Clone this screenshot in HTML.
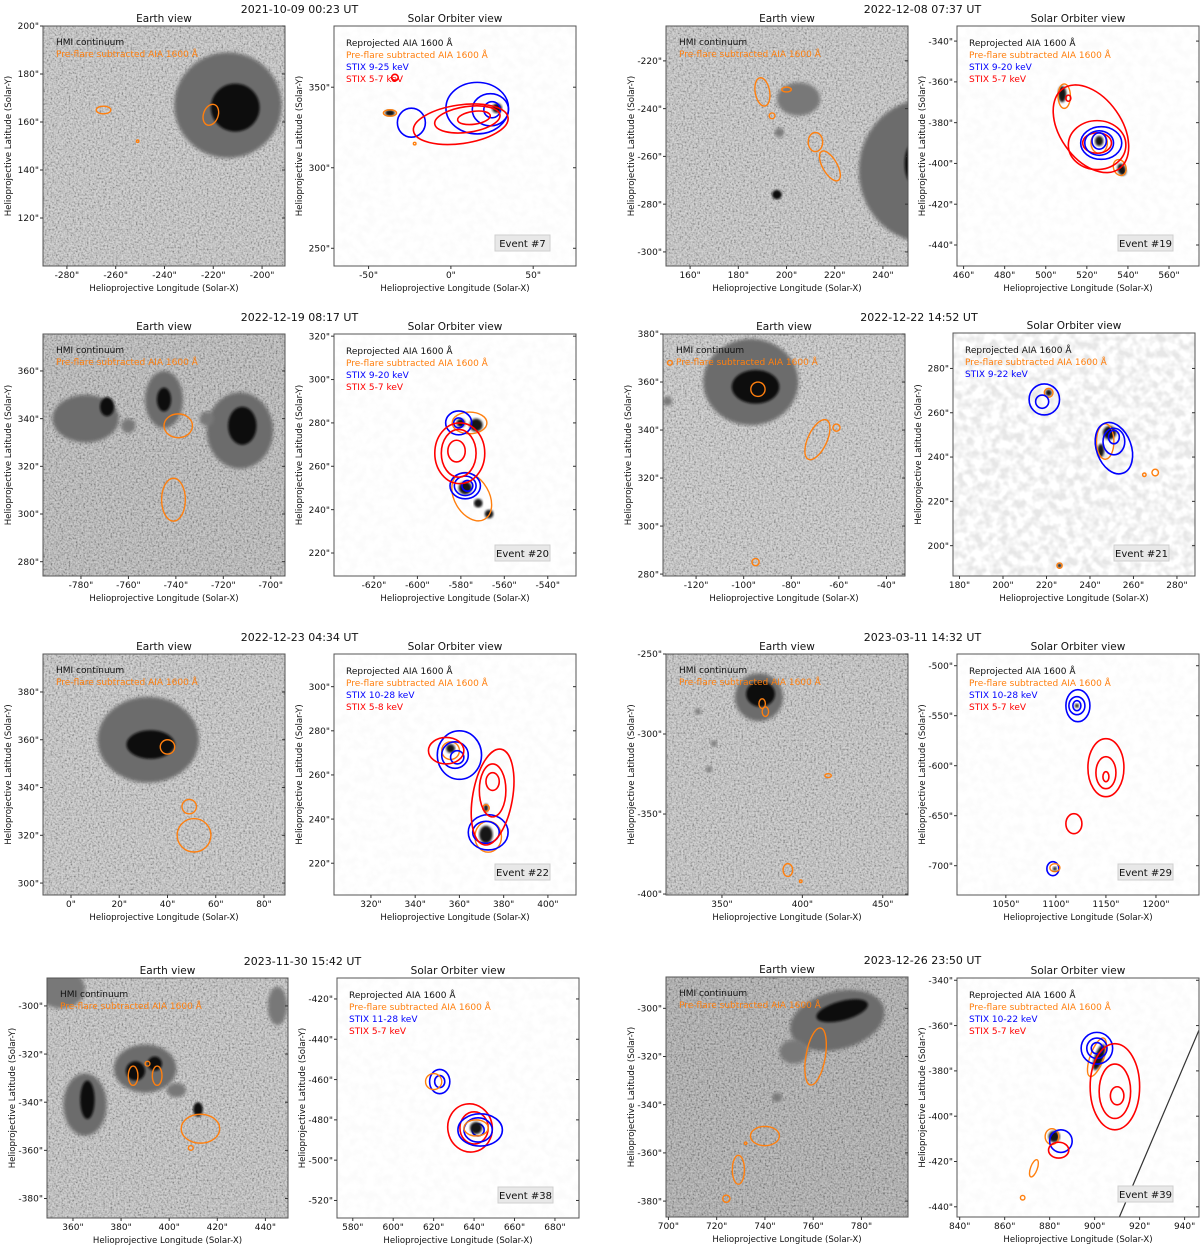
<!DOCTYPE html>
<html><head><meta charset="utf-8"><style>
html,body{margin:0;padding:0;background:#fff;}
svg{display:block;font-family:"DejaVu Sans","Liberation Sans",sans-serif;}
</style></head><body>
<svg id="fig" width="1200" height="1248" viewBox="0 0 1200 1248" xmlns="http://www.w3.org/2000/svg">
<defs>
<filter id="gran" x="0" y="0" width="100%" height="100%">
<feTurbulence type="fractalNoise" baseFrequency="0.55" numOctaves="2" seed="3"/>
<feColorMatrix type="matrix" values="2 0 0 0 -0.5  2 0 0 0 -0.5  2 0 0 0 -0.5  0 0 0 0 1"/>
</filter>
<filter id="speck" x="0" y="0" width="100%" height="100%">
<feTurbulence type="fractalNoise" baseFrequency="0.12" numOctaves="2" seed="7"/>
<feColorMatrix type="matrix" values="0 0 0 0 0.5  0 0 0 0 0.5  0 0 0 0 0.5  -3 0 0 0 1.9"/>
</filter>
<filter id="blur2"><feGaussianBlur stdDeviation="1.8"/></filter>
<filter id="blur1"><feGaussianBlur stdDeviation="1.0"/></filter>
</defs>
</svg>
<script>
// ---- data (data coordinates, arcsec): [kind, x, y, rx, ry, rotationDeg]
// kinds: P penumbra, U umbra, G grey spot, k AIA kernel, o orange AIA contour, b blue STIX, r red STIX
const earth7 = [['P',-214,167,22,22,0],['U',-211,166,10,10,0],['o',-265,165,3,1.6,0],['o',-221,163,3,4.5,-20],['o',-251,152,0.5,0.5,0]];
const so7 = [['k',28,337,3,3,0],['k',-37,334,3,2,0],['o',-37,334,4,2,0],['b',-24,328,8.5,9,0],['b',16,337,19,16,0],['b',24,336,11,10,0],['b',25,336,5,5,0],['r',6,327,29,12,8],['r',10,330,20,8,8],['r',14,331,10,4,8],['r',-34,356,2,2,0],['o',-22,315,0.8,0.8,0]];
const earth19 = [['P',258,-266,28,30,0],['U',252,-263,3,8,0],['G',205,-236,9,7,0],['G',197,-250,2,2,0],['U',196,-276,2,2,0],['o',190,-233,3,6,10],['o',194,-243,1.2,1.2,0],['o',212,-254,3,4,0],['o',218,-264,3,7,30],['o',200,-232,2,1,0]];
const so19 = [['k',508,-366,2,4,0],['k',526,-389,2,2.5,0],['k',537,-403,2,3,20],['o',509,-367,3,6,0],['o',526,-390,4,5,0],['o',536,-402,3,4,20],['r',522,-383,15,24,35],['r',525,-391,14,12,0],['r',525,-390,7,5,0],['b',527,-390,10,8,0],['b',526,-390,7,6,0],['b',526,-389,3.5,4,0],['r',511,-368,1.2,1.5,0]];
const earth20 = [['P',-778,340,14,10,0],['U',-769,345,3,4,0],['P',-745,348,8,12,0],['U',-745,348,3,5,0],['P',-713,335,14,16,0],['U',-712,337,6,8,0],['G',-727,340,3,3,0],['G',-760,337,3,3,0],['o',-739,337,6,5,0],['o',-741,306,5,9,0]];
const so20 = [['k',-580,280,2,2,0],['k',-573,279,3,3,0],['k',-578,250,3,3,0],['k',-572,243,2,2,0],['k',-567,238,2,2,0],['o',-576,280,8,5,0],['o',-575,246,8,12,30],['b',-581,280,6,5.5,0],['b',-581,280,2.3,2.3,0],['b',-578,251,7,6,0],['b',-578,251,5,4.5,0],['b',-577,251,2.5,2.5,0],['r',-580.5,266,11.5,14,0],['r',-581,266,8,11,0],['r',-582,267,4,5,0]];
const earth21 = [['P',-97,360,20,18,0],['U',-95,358,10,7,0],['G',-132,352,2,2,0],['o',-94,357,3,3,0],['o',-69,336,4,9,-25],['o',-61,341,1.5,1.5,0],['o',-95,285,1.5,1.5,0],['o',-131,368,1,1,0]];
const so21 = [['k',221,269,1.5,1.5,0],['k',245,243,1.5,3,0],['k',249,251,3,3,0],['k',226,191,1,1,0],['o',221,269,2,2,0],['o',247,247,4,8,0],['o',226,191,1.2,1.2,0],['o',270,233,1.5,1.5,0],['o',265,232,0.8,0.8,0],['b',219,266,7,7,0],['b',218,265,3,3,0],['b',251,244,8,12,20],['b',251,247,5,6,0],['b',251,249,2.5,3,0]];
const earth22 = [['P',32,360,21,18,0],['U',33,358,10,6,0],['o',40,357,3,3,0],['o',49,332,3,3,0],['o',51,320,7,7,0]];
const so22 = [['k',356,272,2,2,0],['k',372,233,3,4,0],['k',372,245,1,2,0],['o',356,271,4,4,0],['o',373,232,6,7,0],['o',372,245,1.5,1.5,0],['b',360,269,10,11,0],['b',358,269,6,6,0],['b',359,268,3,3,0],['b',373,234,9,8,0],['b',372,234,6,5,0],['r',354,271,8,6,0],['r',375,250,9,22,-10],['r',375,253,6,12,0],['r',375,257,3,4,0]];
const earth29 = [['P',373,-277,15,15,0],['U',374,-275,9,8,0],['G',335,-286,2,2,0],['G',345,-306,2,2,0],['G',342,-322,2,2,0],['o',375,-281,2,3,0],['o',377,-286,2,3,0],['o',416,-326,2,1.2,0],['o',391,-385,3,4,0],['o',399,-392,0.8,0.8,0]];
const so29 = [['b',1122,-540,12,16,0],['b',1121,-540,8,9,0],['b',1121,-540,4,5,0],['k',1121,-540,2,2,0],['r',1150,-602,18,29,0],['r',1150,-607,10,16,0],['r',1150,-611,3,5,0],['r',1118,-658,8,10,0],['b',1097,-703,6,7,0],['o',1099,-702,5,4,0],['k',1099,-703,2,2,0]];
const earth38 = [['G',355,-293,10,8,0],['G',445,-300,4,8,0],['P',365,-341,9,13,0],['U',366,-339,3,8,0],['P',390,-326,13,10,0],['U',386,-327,4,4,0],['U',394,-324,3,3,0],['G',403,-335,4,3,0],['U',412,-343,2,3,0],['o',385,-329,2,4,0],['o',395,-329,2,4,0],['o',391,-324,1,1,0],['o',413,-351,8,6,0],['o',409,-359,1,1,0]];
const so38 = [['b',623,-461,5,6,0],['b',623,-461,2.5,3,0],['o',620,-461,4,4,0],['r',638,-484,11,12,10],['r',640,-484,7,8,0],['b',643,-485,11,8,0],['b',642,-485,7,6,0],['b',642,-485,3,3,0],['k',641,-484,3,3,0],['o',641,-484,6,4,0]];
const earth39 = [['P',770,-305,20,12,15],['U',772,-301,11,4,15],['G',752,-318,6,5,0],['G',745,-337,2,2,0],['o',761,-320,4,12,-10],['o',740,-353,6,4,0],['o',729,-367,2.5,6,0],['o',724,-379,1.5,1.5,0],['o',732,-356,0.5,0.5,0]];
const so39 = [['k',902,-374,2,6,-20],['k',882,-409,2.5,2.5,0],['o',901,-374,3,9,-20],['o',881,-409,3,3.5,0],['o',873,-423,1.5,4,-20],['o',868,-436,1,1,0],['b',901,-370,7,7,0],['b',901,-370,4.5,4.5,0],['b',901,-370,2.5,2.5,0],['r',909,-387,11,19,0],['r',909,-389,7,12,0],['r',910,-391,3,4,0],['b',885,-411,5,5,0],['r',884,-415,4.5,3.5,0]];
const limbLine39 = [[911,-444.5],[946.4,-362]];

const dates = ['2021-10-09 00:23 UT','2022-12-08 07:37 UT','2022-12-19 08:17 UT','2022-12-22 14:52 UT','2022-12-23 04:34 UT','2023-03-11 14:32 UT','2023-11-30 15:42 UT','2023-12-26 23:50 UT'];
const eventIds = [7,19,20,21,22,29,38,39];
const stixBlue = ['STIX 9-25 keV','STIX 9-20 keV','STIX 9-20 keV','STIX 9-22 keV','STIX 10-28 keV','STIX 10-28 keV','STIX 11-28 keV','STIX 10-22 keV'];
const stixRed = ['STIX 5-7 keV','STIX 5-7 keV','STIX 5-7 keV','','STIX 5-8 keV','STIX 5-7 keV','STIX 5-7 keV','STIX 5-7 keV'];
const earthTicksX = [[-280,-260,-240,-220,-200],[160,180,200,220,240],[-780,-760,-740,-720,-700],[-120,-100,-80,-60,-40],[0,20,40,60,80],[350,400,450],[360,380,400,420,440],[700,720,740,760,780]];
const earthTicksY = [[120,140,160,180,200],[-300,-280,-260,-240,-220],[280,300,320,340,360],[280,300,320,340,360,380],[300,320,340,360,380],[-400,-350,-300,-250],[-380,-360,-340,-320,-300],[-380,-360,-340,-320,-300]];
const soTicksX = [[-50,0,50],[460,480,500,520,540,560],[-620,-600,-580,-560,-540],[180,200,220,240,260,280],[320,340,360,380,400],[1050,1100,1150,1200],[580,600,620,640,660,680],[840,860,880,900,920,940]];
const soTicksY = [[250,300,350],[-440,-420,-400,-380,-360,-340],[220,240,260,280,300,320],[200,220,240,260,280],[220,240,260,280,300],[-700,-650,-600,-550,-500],[-520,-500,-480,-460,-440,-420],[-440,-420,-400,-380,-360,-340]];
const earthFeatures = [earth7,earth19,earth20,earth21,earth22,earth29,earth38,earth39];
const soFeatures = [so7,so19,so20,so21,so22,so29,so38,so39];

// ---- layout (pixel boxes + axis extents)
const earthBox = [
 {x:43,y:26,w:242,h:240,x0:-289.8,x1:-190.6,y0:100,y1:200},
 {x:666,y:26,w:242,h:240,x0:150,x1:250.4,y0:-305.9,y1:-205.4},
 {x:43,y:334,w:242,h:242,x0:-796,x1:-694,y0:274,y1:375.5},
 {x:663,y:334,w:242,h:242,x0:-133.9,x1:-32.2,y0:279.2,y1:380},
 {x:43,y:654,w:242,h:241,x0:-11.6,x1:88.7,y0:295,y1:395.9},
 {x:666,y:654,w:242,h:241,x0:315.2,x1:465.7,y0:-400.6,y1:-250},
 {x:47,y:978,w:241,h:240,x0:349.2,x1:449.4,y0:-388.1,y1:-288.4},
 {x:666,y:977,w:242,h:240,x0:699,x1:799.3,y0:-386.6,y1:-287}];
const soBox = [
 {x:334,y:26,w:242,h:240,x0:-71,x1:76,y0:239,y1:388},
 {x:957,y:26,w:242,h:240,x0:456.8,x1:574.6,y0:-450.3,y1:-332.6},
 {x:334,y:334,w:242,h:242,x0:-638.4,x1:-527,y0:209.4,y1:321},
 {x:953,y:333,w:242,h:243,x0:177,x1:288.3,y0:186.3,y1:296},
 {x:334,y:654,w:242,h:241,x0:303.3,x1:412.7,y0:205.6,y1:314.8},
 {x:957,y:654,w:242,h:241,x0:1001.2,x1:1243,y0:-729.3,y1:-488.3},
 {x:337,y:978,w:242,h:240,x0:572.2,x1:691.9,y0:-528.7,y1:-409.6},
 {x:957,y:978,w:242,h:239,x0:838.8,x1:946.4,y0:-444.5,y1:-339}];
const earthBase = ['#c6c6c6','#c6c6c6','#b8b8b8','#c8c8c8','#c6c6c6','#c4c4c4','#c2c2c2','#ababab'];

const NS='http://www.w3.org/2000/svg';
const svg=document.getElementById('fig');
function mk(tag,attrs,parent){const e=document.createElementNS(NS,tag);for(const k in attrs)e.setAttribute(k,attrs[k]);(parent||svg).appendChild(e);return e;}
function sx(p,v){return p.x+(v-p.x0)/(p.x1-p.x0)*p.w;}
function sy(p,v){return p.y+(p.y1-v)/(p.y1-p.y0)*p.h;}
function kx(p){return p.w/(p.x1-p.x0);}
function ky(p){return p.h/(p.y1-p.y0);}
function txt(x,y,s,size,fill,anchor,parent){const t=mk('text',{x:x,y:y,'font-size':size,fill:fill,'text-anchor':anchor||'start'},parent);t.textContent=s;return t;}

function drawFeature(p,f,g){
  const [kind,x,y,rx,ry,rot]=f;
  const cx=sx(p,x),cy=sy(p,y),px=rx*kx(p),py=ry*ky(p);
  const a={cx:cx,cy:cy,rx:px,ry:py,transform:'rotate('+(-rot)+' '+cx+' '+cy+')'};
  let e;
  if(kind==='P'){a.fill='#6c6c6c';a.filter='url(#blur2)';e=mk('ellipse',a,g);
    }
  else if(kind==='U'){a.fill='#0e0e0e';a.filter='url(#blur1)';e=mk('ellipse',a,g);
    }
  else if(kind==='G'){a.fill='#787878';a.filter='url(#blur2)';e=mk('ellipse',a,g);
    }
  else if(kind==='k'){a.fill='#151515';a.filter='url(#blur1)';e=mk('ellipse',a,g);
    }
  else {const col={o:'#ff7f0e',b:'#0000ff',r:'#ff0000'}[kind];a.fill='none';a.stroke=col;a['stroke-width']=kind==='o'?1.4:1.6;e=mk('ellipse',a,g);
    }
  
}

function drawAxes(p,xt,yt,g){
  const f=mk('rect',{x:p.x,y:p.y,width:p.w,height:p.h,fill:'none',stroke:'#555','stroke-width':1},g);
  
  
  xt.forEach(v=>{const X=sx(p,v);
    mk('line',{x1:X,y1:p.y+p.h,x2:X,y2:p.y+p.h+3,stroke:'#333'},g);
    const t=txt(X,p.y+p.h+12,v+'"',9,'#111','middle',g);
    
    });
  yt.forEach(v=>{const Y=sy(p,v);
    mk('line',{x1:p.x-3,y1:Y,x2:p.x,y2:Y,stroke:'#333'},g);
    mk('line',{x1:p.x+p.w-3,y1:Y,x2:p.x+p.w,y2:Y,stroke:'#333'},g);
    const t=txt(p.x-4,Y+3.2,v+'"',9,'#111','end',g);
    
    });
  const xl=txt(p.x+p.w/2,p.y+p.h+25,'Helioprojective Longitude (Solar-X)',8.6,'#111','middle',g);
  
  
  const lx=p.x-32,ly=p.y+p.h/2;
  const yl=txt(lx,ly,'Helioprojective Latitude (Solar-Y)',8.6,'#111','middle',g);
  yl.setAttribute('transform','rotate(-90 '+lx+' '+ly+')');
  
  
}

for(let i=0;i<8;i++){
  const ev=mk('g',{});
  
  
  const E=earthBox[i],S=soBox[i];
  const cid='clipE'+i, sid='clipS'+i;
  const cp=mk('clipPath',{id:cid},ev);mk('rect',{x:E.x,y:E.y,width:E.w,height:E.h},cp);
  const sp=mk('clipPath',{id:sid},ev);mk('rect',{x:S.x,y:S.y,width:S.w,height:S.h},sp);
  // Earth panel
  const ge=mk('g',{'clip-path':'url(#'+cid+')'},ev);
  
  
  mk('rect',{x:E.x,y:E.y,width:E.w,height:E.h,fill:earthBase[i]},ge);
  mk('rect',{x:E.x,y:E.y,width:E.w,height:E.h,filter:'url(#gran)',opacity:0.3},ge);
  earthFeatures[i].forEach(f=>drawFeature(E,f,ge));
  drawAxes(E,earthTicksX[i],earthTicksY[i],ev);
  const t1=txt(E.x+E.w/2,E.y-4,'Earth view',10.5,'#111','middle',ev);
  
  
  const l1=txt(E.x+13,E.y+19,'HMI continuum',9,'#111','start',ev);
  
  
  const l2=txt(E.x+13,E.y+31,'Pre-flare subtracted AIA 1600 Å',9,'#ff7f0e','start',ev);
  
  
  // Solar Orbiter panel
  const gs=mk('g',{'clip-path':'url(#'+sid+')'},ev);
  
  
  mk('rect',{x:S.x,y:S.y,width:S.w,height:S.h,fill:'#fff'},gs);
  mk('rect',{x:S.x,y:S.y,width:S.w,height:S.h,filter:'url(#speck)',opacity:i===3?0.35:0.05},gs);
  soFeatures[i].forEach(f=>drawFeature(S,f,gs));
  if(i===7){const ln=mk('line',{x1:sx(S,limbLine39[0][0]),y1:sy(S,limbLine39[0][1]),x2:sx(S,limbLine39[1][0]),y2:sy(S,limbLine39[1][1]),stroke:'#333','stroke-width':1.2},gs);
    
    }
  drawAxes(S,soTicksX[i],soTicksY[i],ev);
  const t2=txt(S.x+S.w/2,S.y-4,'Solar Orbiter view',10.5,'#111','middle',ev);
  
  
  const leg=[['Reprojected AIA 1600 Å','#111'],['Pre-flare subtracted AIA 1600 Å','#ff7f0e'],[stixBlue[i],'#0000ff'],[stixRed[i],'#ff0000']];
  leg.forEach((l,j)=>{if(!l[0])return;const t=txt(S.x+12,S.y+20+j*12,l[0],9,l[1],'start',ev);
    
    });
  const bx=S.x+S.w-81,by=S.y+S.h-31;
  const box=mk('rect',{x:bx,y:by,width:55,height:16,fill:'#e8e8e8',stroke:'#cfcfcf','stroke-width':1},ev);
  
  
  const et=txt(bx+27.5,by+12,'Event #'+eventIds[i],10,'#111','middle',ev);
  
  
  const dt=txt((E.x+E.w+S.x)/2-10,E.y-13,dates[i],11,'#111','middle',ev);
  
  
}
</script>
</body></html>
